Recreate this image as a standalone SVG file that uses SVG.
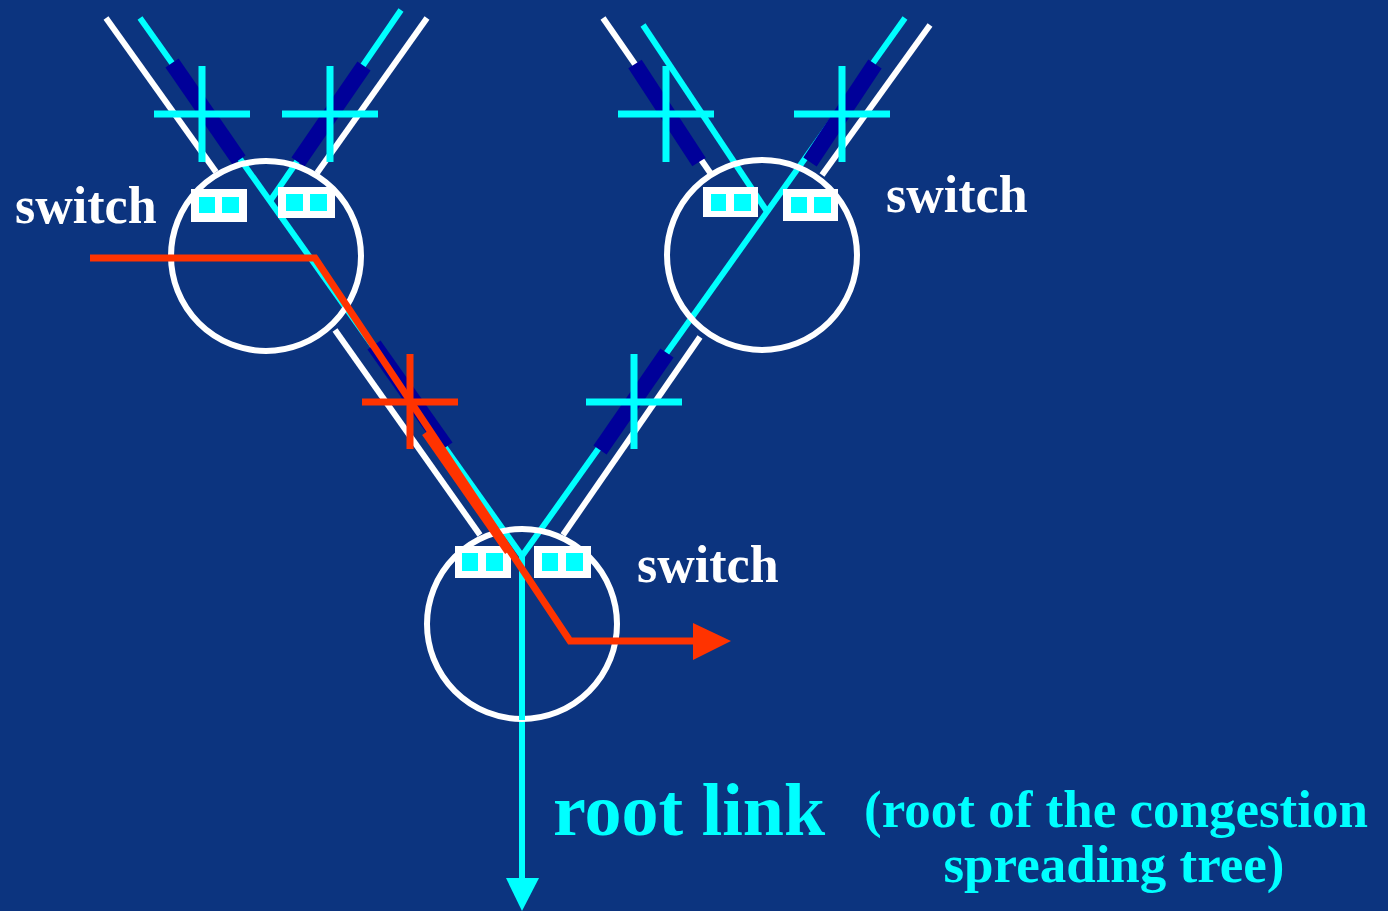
<svg xmlns="http://www.w3.org/2000/svg" width="1388" height="911" viewBox="0 0 1388 911">
<style>
.bg{fill:#0C347F}
.w{stroke:#FFFFFF;stroke-width:6;fill:none}
.c{stroke:#00FFFF;stroke-width:6;fill:none}
.nv{stroke:#000099;stroke-width:16;fill:none}
.x{stroke:#00FFFF;stroke-width:7;fill:none}
.xr{stroke:#FF3300;stroke-width:7;fill:none}
.r{stroke:#FF3300;stroke-width:7;fill:none}
.sw{stroke:#FFFFFF;stroke-width:6;fill:none}
.box{fill:#FFFFFF}
.sq{fill:#00FFFF}
.lbl{font-family:"Liberation Serif","Times New Roman",serif;font-weight:bold;font-size:52px;fill:#FFFFFF}
.cy{font-family:"Liberation Serif","Times New Roman",serif;font-weight:bold;fill:#00FFFF}
</style>
<rect class="bg" x="0" y="0" width="1388" height="911"/>
<g id="connectors">
  <!-- white link lines -->
  <line class="w" x1="106" y1="18" x2="216" y2="172"/>
  <line class="w" x1="427" y1="18" x2="317" y2="173"/>
  <line class="w" x1="603" y1="18" x2="711" y2="174"/>
  <line class="w" x1="930" y1="25" x2="822" y2="175"/>
  <line class="w" x1="335" y1="330" x2="480" y2="535"/>
  <line class="w" x1="563" y1="535" x2="700" y2="337"/>
  <!-- cyan congestion tree -->
  <line class="c" x1="140" y1="18" x2="522" y2="556"/>
  <line class="c" x1="401" y1="10" x2="270" y2="201"/>
  <line class="c" x1="905" y1="18" x2="522" y2="556"/>
  <line class="c" x1="643" y1="25" x2="768" y2="213"/>
  <line class="c" x1="522" y1="556" x2="522" y2="882"/>
  <polygon fill="#00FFFF" points="506,878 539,878 522,911"/>
  <!-- navy blocked segments -->
  <line class="nv" x1="172" y1="63" x2="239" y2="160"/>
  <line class="nv" x1="364" y1="66" x2="298" y2="162"/>
  <line class="nv" x1="635" y1="64" x2="699" y2="162"/>
  <line class="nv" x1="875" y1="64" x2="810" y2="162"/>
  <line class="nv" x1="667" y1="353" x2="600" y2="450" stroke-width="15"/>
  <line class="nv" x1="374" y1="345" x2="446" y2="447" stroke-width="13"/>
  <!-- crosses -->
  <path class="x" d="M154,114H250M202,66V162"/>
  <path class="x" d="M282,114H378M330,66V162"/>
  <path class="x" d="M618,114H714M666,66V162"/>
  <path class="x" d="M794,114H890M842,66V162"/>
  <path class="x" d="M586,402H682M634,354V449"/>
</g>
<g id="switch-top-left">
  <circle class="sw" cx="266" cy="256" r="95"/>
  <rect class="box" x="191" y="189" width="56" height="33"/>
  <rect class="sq" x="199" y="197" width="16" height="16"/>
  <rect class="sq" x="222" y="197" width="17" height="16"/>
  <rect class="box" x="278" y="187" width="57" height="31"/>
  <rect class="sq" x="286" y="194" width="17" height="17"/>
  <rect class="sq" x="310" y="194" width="17" height="17"/>
  <text class="lbl" x="15" y="223">switch</text>
</g>
<g id="switch-top-right">
  <circle class="sw" cx="762" cy="255" r="95"/>
  <rect class="box" x="703" y="187" width="55" height="30"/>
  <rect class="sq" x="711" y="194" width="15" height="17"/>
  <rect class="sq" x="734" y="194" width="17" height="17"/>
  <rect class="box" x="783" y="189" width="55" height="32"/>
  <rect class="sq" x="791" y="197" width="16" height="16"/>
  <rect class="sq" x="814" y="197" width="17" height="16"/>
  <text class="lbl" x="886" y="212">switch</text>
</g>
<g id="switch-bottom">
  <circle class="sw" cx="522" cy="624" r="95"/>
  <rect class="box" x="455" y="546" width="56" height="32"/>
  <rect class="sq" x="462" y="553" width="16" height="18"/>
  <rect class="sq" x="486" y="553" width="17" height="18"/>
  <rect class="box" x="534" y="546" width="57" height="32"/>
  <rect class="sq" x="542" y="553" width="16" height="18"/>
  <rect class="sq" x="566" y="553" width="17" height="18"/>
  <text class="lbl" x="637" y="582">switch</text>
</g>
<g id="cyan-stem-over">
  <line class="c" x1="522" y1="556" x2="522" y2="720"/>
</g>
<g id="red-flow">
  <path class="xr" d="M362,402H458M410,354V449"/>
  <path class="r" d="M90,258H315L570,641H697"/>
  <line class="r" x1="425" y1="433" x2="508" y2="552" stroke-width="9"/>
  <polygon fill="#FF3300" points="693,623 731,641 693,660"/>
</g>
<g id="labels">
  <text class="cy" x="553" y="835" font-size="74">root link</text>
  <text class="cy" x="1116" y="827" font-size="53" text-anchor="middle">(root of the congestion</text>
  <text class="cy" x="1114" y="882" font-size="53" text-anchor="middle">spreading tree)</text>
</g>
</svg>
